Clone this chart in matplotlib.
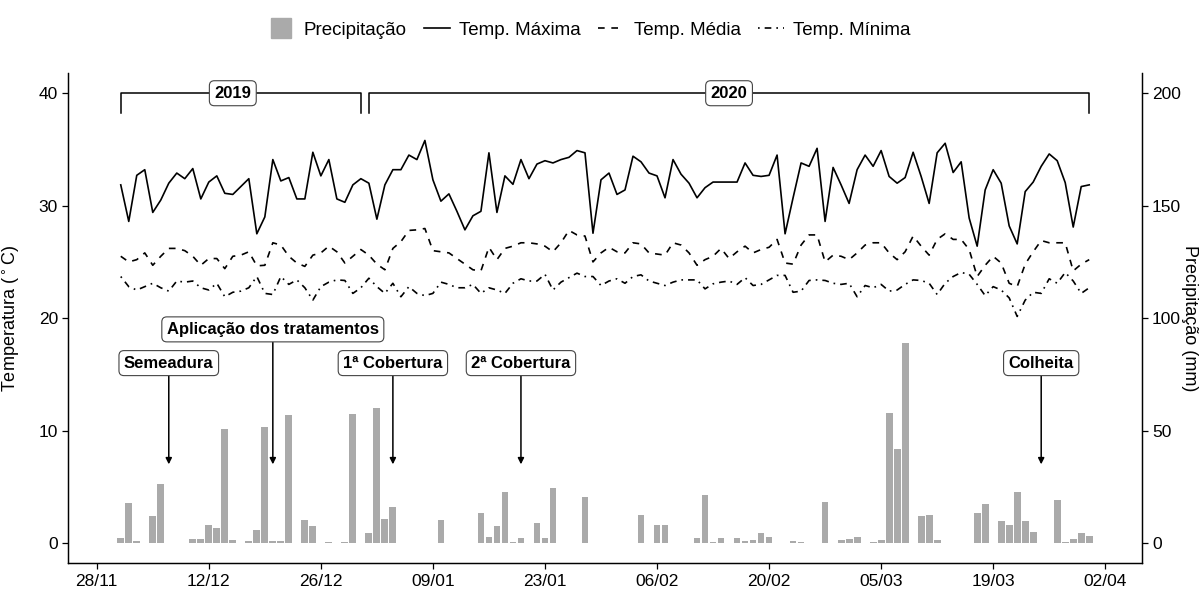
import numpy as np
import pandas as pd
import matplotlib
matplotlib.use("Agg")
import matplotlib.pyplot as plt
import matplotlib.dates as mdates
from matplotlib.lines import Line2D

plt.rcParams['font.family'] = ['Liberation Sans', 'DejaVu Sans']

# daily series, 01/12/2019 .. 31/03/2020
dates = pd.date_range('2019-12-01', '2020-03-31', freq='D')

temp_max = [31.85, 28.6, 32.7, 33.2, 29.4, 30.5, 32.0, 32.9, 32.4, 33.3,
            30.6, 32.1, 32.65, 31.1, 31.0, 31.7, 32.4, 27.5, 29.0, 34.1,
            32.2, 32.5, 30.6, 30.6, 34.75, 32.65, 34.1, 30.6, 30.3, 31.85,
            32.4, 32.0, 28.8, 31.85, 33.2, 33.2, 34.5, 34.1, 35.8, 32.3,
            30.4, 31.05, 29.5, 27.85, 29.1, 29.5, 34.7, 29.4, 32.65, 31.9,
            34.1, 32.4, 33.7, 34.0, 33.8, 34.1, 34.3, 34.9, 34.7, 27.55,
            32.3, 32.9, 31.0, 31.4, 34.4, 33.9, 32.9, 32.65, 30.7, 34.1,
            32.8, 32.0, 30.7, 31.6, 32.1, 32.1, 32.1, 32.1, 33.8, 32.7,
            32.6, 32.7, 34.5, 27.5, 30.7, 33.8, 33.5, 35.1, 28.6, 33.4,
            31.85, 30.2, 33.2, 34.5, 33.5, 34.9, 32.6, 32.0, 32.5, 34.75,
            32.6, 30.2, 34.7, 35.55, 32.95, 33.9, 28.9, 26.4, 31.4, 33.2,
            32.0, 28.2, 26.6, 31.25, 32.1, 33.5, 34.6, 34.0, 32.05, 28.1,
            31.7, 31.85]

temp_med = [25.5, 25.0, 25.2, 25.8, 24.7, 25.5, 26.2, 26.2, 26.0, 25.5,
            24.7, 25.3, 25.3, 24.4, 25.5, 25.6, 25.9, 24.65, 24.7, 26.7,
            26.5, 25.5, 24.9, 24.6, 25.6, 25.8, 26.4, 25.9, 24.9, 25.5,
            26.1, 25.6, 24.8, 24.3, 26.2, 26.8, 27.8, 27.85, 27.97, 26.0,
            25.9, 25.8, 25.3, 24.8, 24.3, 24.2, 26.3, 25.2, 26.2, 26.4,
            26.7, 26.7, 26.6, 26.4, 25.9, 26.7, 27.8, 27.4, 27.3, 25.0,
            25.8, 26.3, 25.9, 25.8, 26.7, 26.6, 25.8, 25.7, 25.6, 26.7,
            26.5, 25.8, 24.7, 25.2, 25.5, 26.2, 25.3, 25.9, 26.4, 25.8,
            26.1, 26.3, 27.0, 24.9, 24.8, 26.5, 27.4, 27.4, 25.0, 25.6,
            25.5, 25.2, 25.8, 26.5, 26.7, 26.7, 25.8, 25.2, 25.9, 27.3,
            26.4, 25.6, 27.0, 27.5, 27.0, 27.0, 26.1, 23.7, 24.7, 25.5,
            24.9, 23.1, 22.8, 24.8, 25.9, 26.9, 26.7, 26.7, 26.7, 24.2,
            24.8, 25.2]

temp_min = [23.7, 22.8, 22.5, 22.8, 23.1, 22.7, 22.4, 23.3, 23.2, 23.3,
            22.7, 22.5, 23.1, 21.9, 22.3, 22.4, 22.7, 23.7, 22.2, 22.1,
            23.7, 23.0, 23.4, 22.7, 21.6, 22.8, 23.2, 23.4, 23.35, 22.2,
            22.7, 23.55, 22.8, 22.2, 23.1, 21.9, 22.8, 22.2, 22.0, 22.2,
            23.2, 23.0, 22.7, 22.7, 23.0, 22.2, 22.7, 22.5, 22.2, 23.1,
            23.5, 23.3, 23.3, 23.9, 22.5, 23.2, 23.6, 24.0, 23.7, 23.7,
            22.9, 23.3, 23.5, 23.1, 23.7, 23.85, 23.3, 23.1, 22.9, 23.2,
            23.4, 23.4, 23.4, 22.6, 23.05, 23.2, 23.3, 23.0, 23.6, 22.9,
            23.0, 23.4, 23.8, 23.8, 22.3, 22.4, 23.35, 23.4, 23.35, 23.1,
            23.0, 23.1, 21.9, 22.9, 22.7, 23.0, 22.4, 22.5, 23.0, 23.4,
            23.35, 23.1, 22.1, 23.1, 23.7, 24.06, 23.9, 23.0, 22.0, 22.8,
            22.5, 21.8, 20.15, 21.6, 22.3, 22.2, 23.5, 23.1, 24.06, 23.3,
            22.2, 22.7]

precip = [2.4, 17.6, 0.9, 0.15, 12.0, 26.2, 0, 0, 0, 1.6,
          1.6, 8.1, 6.7, 50.7, 1.5, 0, 1.0, 5.9, 51.4, 1.0,
          0.7, 57.0, 0, 10.2, 7.4, 0, 0.4, 0, 0.3, 57.3,
          0.2, 4.3, 60.0, 10.5, 16.1, 0, 0, 0, 0, 0,
          10.2, 0, 0, 0, 0, 13.2, 2.8, 7.4, 22.5, 0.6,
          2.2, 0.1, 9.0, 2.1, 24.4, 0, 0, 0, 20.6, 0,
          0, 0, 0, 0, 0.2, 12.4, 0, 8.0, 8.0, 0,
          0, 0, 2.4, 21.2, 0.4, 2.2, 0, 2.2, 0.9, 1.3,
          4.3, 2.8, 0, 0, 0.9, 0.3, 0, 0, 18.4, 0.15,
          1.5, 1.8, 2.8, 0, 0.4, 1.2, 57.9, 41.6, 89.0, 0,
          12.0, 12.6, 1.2, 0, 0, 0, 0, 13.5, 17.2, 0.1,
          9.8, 8.0, 22.7, 9.9, 5.0, 0, 0, 19.0, 0.3, 1.9,
          4.4, 3.3]

# crop events (label, date, label height in degC)
event_labels = ['Semeadura', 'Aplicação dos tratamentos', '1ª Cobertura', '2ª Cobertura', 'Colheita']
event_dates = ['2019-12-07', '2019-12-20', '2020-01-04', '2020-01-20', '2020-03-25']
event_label_y = [16.0, 19.0, 16.0, 16.0, 16.0]
arrow_end_y = 7

# year brackets
year_labels = ['2019', '2020']
year_start = ['2019-12-01', '2020-01-01']
year_end = ['2019-12-31', '2020-03-31']
year_label_pos = ['2019-12-15', '2020-02-15']

BAR_COLOR = '#aaaaaa'

fig = plt.figure(figsize=(12.03, 5.90), dpi=100)
ax = fig.add_axes([0.0568, 0.0453, 0.8922, 0.8310])
ax2 = ax.twinx()

ax2.bar(dates, precip, width=0.85, color=BAR_COLOR, linewidth=0)

ax.plot(dates, temp_max, color='black', lw=1.2, linestyle='-')
ax.plot(dates, temp_med, color='black', lw=1.2, linestyle=(0, (4, 4)))
ax.plot(dates, temp_min, color='black', lw=1.2, linestyle=(0, (1, 3, 4, 3)))

# lines above the bars
ax.set_zorder(ax2.get_zorder() + 1)
ax.patch.set_visible(False)

ylim = (-1.8, 41.8)
ax.set_ylim(ylim)
ax2.set_ylim(ylim[0] * 5, ylim[1] * 5)
ax.set_yticks([0, 10, 20, 30, 40])
ax2.set_yticks([0, 50, 100, 150, 200])

x0 = pd.Timestamp('2019-11-28') - pd.Timedelta(days=3.55)
x1 = pd.Timestamp('2020-04-02') + pd.Timedelta(days=4.55)
ax.set_xlim(x0, x1)
ax.set_xticks(pd.date_range('2019-11-28', '2020-04-02', freq='14D'))
ax.xaxis.set_major_formatter(mdates.DateFormatter('%d/%m'))

for a in (ax, ax2):
    a.spines['top'].set_visible(False)
    for s in ('left', 'right', 'bottom'):
        a.spines[s].set_linewidth(0.9)
    a.tick_params(labelsize=12.5, length=4, width=0.9, colors='black')

ax.set_ylabel('Temperatura ($^\\circ$C)', fontsize=13)
ax.yaxis.set_label_coords(-0.043, 0.5)
ax2.set_ylabel('Precipitação (mm)', fontsize=13, rotation=270, va='center')
ax2.yaxis.set_label_coords(1.045, 0.5)

# year brackets
for lab, s, e, m in zip(year_labels, year_start, year_end, year_label_pos):
    s, e = pd.Timestamp(s), pd.Timestamp(e)
    ax.plot([s, s, e, e], [38.2, 40, 40, 38.2], color='black', lw=1.1)
    ax.text(pd.Timestamp(m), 40, lab, ha='center', va='center', fontsize=12,
            fontweight='bold',
            bbox=dict(boxstyle='round,pad=0.3,rounding_size=0.3', fc='white', ec='#444444', lw=0.8))

# event annotations
for lab, d, ly in zip(event_labels, event_dates, event_label_y):
    d = pd.Timestamp(d)
    ax.annotate(lab, xy=(d, arrow_end_y), xytext=(d, ly), ha='center', va='center',
                fontsize=12, fontweight='bold',
                bbox=dict(boxstyle='round,pad=0.3,rounding_size=0.3', fc='white', ec='#444444', lw=0.8),
                arrowprops=dict(arrowstyle='-|>', color='black', lw=1.1,
                                mutation_scale=9, shrinkA=0, shrinkB=0))

handles = [Line2D([], [], marker='s', markersize=15, color=BAR_COLOR, linestyle='none'),
           Line2D([], [], color='black', lw=1.2, linestyle='-'),
           Line2D([], [], color='black', lw=1.2, linestyle=(0, (4, 4))),
           Line2D([], [], color='black', lw=1.2, linestyle=(0, (1, 3, 4, 3)))]
labels = ['Precipitação', 'Temp. Máxima', 'Temp. Média', 'Temp. Mínima']
fig.legend(handles, labels, loc='center', bbox_to_anchor=(0.49, 0.949), ncol=4,
           frameon=False, fontsize=13.5, handlelength=1.4,
           handletextpad=0.5, columnspacing=0.9)

fig.savefig('out.png', dpi=100)
